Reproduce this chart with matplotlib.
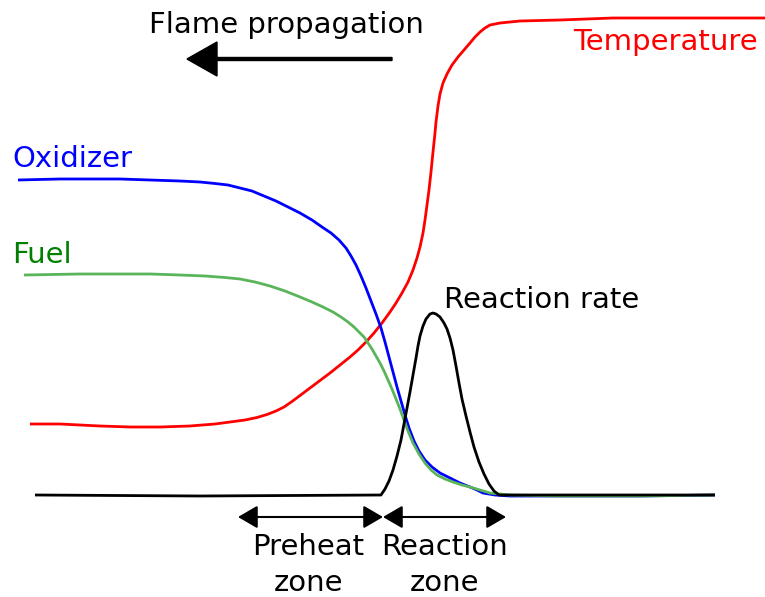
import numpy as np
import matplotlib
matplotlib.use("Agg")
import matplotlib.pyplot as plt

# Schematic flame structure (x: distance, y: screen units, down is lower)
temp_x = [30, 60, 100, 130, 160, 190, 215, 230, 245, 257, 267, 276, 284, 292, 300, 310, 320,
          330, 340, 350, 358, 366, 374, 382, 390, 396, 402, 408, 413, 417, 420, 423, 425, 427,
          429, 431, 433, 435, 436, 438, 440, 443, 447, 452, 458, 464, 470, 475, 480, 485, 490,
          500, 520, 560, 613, 700, 765]
temp_y = [424, 424, 426, 427, 427, 426, 424, 422, 420, 417.5, 414.5, 411, 407, 401.5, 395.5, 388,
          380.5, 373, 365, 357, 350, 342, 333, 323, 312, 303, 293, 282, 270, 258, 247, 233, 220,
          205, 190, 172, 152, 133, 122, 106, 94, 83, 74, 65, 57, 50, 43, 37, 32, 28, 25,
          23, 21, 20, 18, 18, 18]

oxid_x = [18, 60, 120, 180, 200, 215, 228, 240, 252, 264, 276, 288, 300, 312, 322, 331, 339,
          346, 351, 356, 361, 366, 371, 376, 381, 385, 389, 393, 397, 401, 405, 409, 414, 419,
          425, 432, 440, 450, 460, 470, 477, 483, 495, 510, 560, 640, 715]
oxid_y = [180, 179, 179, 181, 182, 183.5, 185, 188, 191, 196, 201, 207, 213, 220, 227, 233, 240,
          248, 256, 265, 276, 288, 301, 314, 328, 342, 357, 372, 387, 401, 415, 428, 441, 451,
          460, 467, 473, 478, 483, 487, 490, 493, 495, 496, 496, 496, 495]

fuel_x = [24, 80, 150, 180, 205, 225, 240, 255, 270, 285, 300, 312, 323, 333, 341, 348, 354,
          359, 364, 368, 372, 376, 380, 384, 388, 392, 396, 400, 404, 408, 413, 419, 425, 431,
          437, 445, 453, 462, 470, 480, 490, 510, 560, 640, 715]
fuel_y = [275, 274, 274, 275, 276, 277.5, 279, 282, 286, 291, 297, 302, 307, 312, 317, 322, 327,
          332, 337, 343, 349, 356, 363, 371, 380, 389, 399, 409, 420, 431, 443, 454, 463, 470,
          475, 479, 482, 485, 487, 490, 493, 495, 496, 496, 495]

rate_x = [35, 200, 381, 385, 389, 393, 397, 401, 404, 407, 410, 413, 416, 418, 420, 423, 426,
          430, 433, 436, 440, 444, 447, 450, 453, 456, 459, 462, 466, 470, 474, 479, 484, 489,
          494, 499, 600, 715]
rate_y = [495, 496, 495, 489, 481, 470, 456, 440, 424, 408, 392, 375, 358, 346, 336, 326, 319,
          314, 313, 314, 317, 323, 329, 338, 350, 366, 383, 399, 416, 432, 447, 462, 474, 484,
          491, 495, 495, 495]

zone_edges = [238, 383, 506]
zone_names = [("Preheat", "zone"), ("Reaction", "zone")]
zone_centres = [308.5, 445]

fig = plt.figure(figsize=(7.65, 5.97), dpi=100)
ax = fig.add_axes([0, 0, 1, 1])
ax.set_xlim(0, 765)
ax.set_ylim(597, 0)
ax.axis("off")

lw = 2
style = dict(lw=lw, solid_joinstyle="round", solid_capstyle="butt")
ax.plot(temp_x, temp_y, color="#ff0000", **style)
ax.plot(oxid_x, oxid_y, color="#0000ff", **style)
ax.plot(fuel_x, fuel_y, color="#5ab45a", **style)
ax.plot(rate_x, rate_y, color="black", **style)

fs = 21
ax.text(286, 33, "Flame propagation", fontsize=fs, ha="center", va="baseline")
ax.arrow(392, 59, -205, 0, width=3, head_width=34, head_length=30,
         length_includes_head=True, color="black")

ax.text(758, 50, "Temperature", color="#ff0000", fontsize=fs, ha="right", va="baseline")
ax.text(12, 167, "Oxidizer", color="#0000ff", fontsize=fs, ha="left", va="baseline")
ax.text(12, 263, "Fuel", color="#008000", fontsize=fs, ha="left", va="baseline")
ax.text(444, 308, "Reaction rate", color="black", fontsize=fs, ha="left", va="baseline")

# zone arrows and labels
for i, (top, bottom) in enumerate(zone_names):
    a, b = zone_edges[i], zone_edges[i + 1]
    ax.annotate("", xy=(a, 517), xytext=(b, 517),
                arrowprops=dict(arrowstyle="<|-|>,head_length=12,head_width=7",
                                mutation_scale=1, color="black", lw=1.5,
                                shrinkA=0, shrinkB=0))
    ax.text(zone_centres[i], 555, top, fontsize=fs, ha="center", va="baseline")
    ax.text(zone_centres[i], 591, bottom, fontsize=fs, ha="center", va="baseline")

fig.savefig("out.png", dpi=100)
